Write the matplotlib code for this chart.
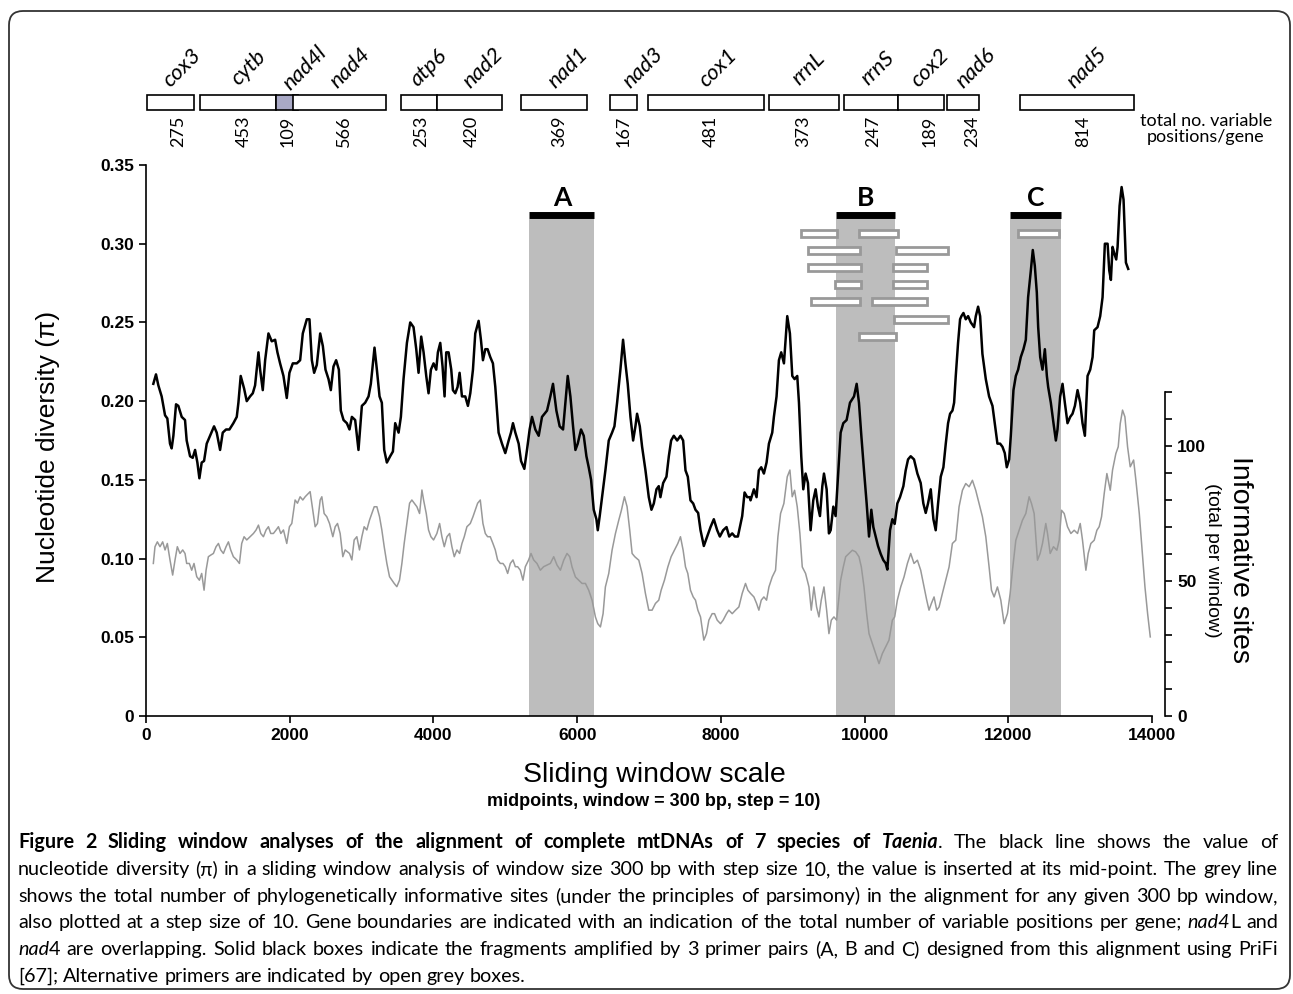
import matplotlib
matplotlib.use('Agg')
import matplotlib.pyplot as plt
from matplotlib.patches import Rectangle, FancyBboxPatch
from matplotlib.ticker import FuncFormatter, MultipleLocator, FixedLocator
from matplotlib.transforms import IdentityTransform

plt.rcParams['font.family'] = ['Liberation Sans', 'DejaVu Sans']

# nucleotide diversity (black line): (window midpoint bp, pi)
pi_pts = [
    (102, 0.211), (139, 0.217), (172, 0.210), (218, 0.203), (265, 0.191), (297, 0.189), (334, 0.173), (357, 0.170),
    (381, 0.178), (418, 0.198), (450, 0.197), (497, 0.190), (543, 0.188), (566, 0.175), (613, 0.165), (650, 0.164),
    (683, 0.169), (715, 0.161), (743, 0.151), (775, 0.161), (808, 0.162), (845, 0.173), (891, 0.178), (947, 0.184),
    (984, 0.180), (1031, 0.169), (1068, 0.180), (1114, 0.182), (1161, 0.182), (1216, 0.186), (1263, 0.190), (1286, 0.199),
    (1318, 0.216), (1365, 0.208), (1402, 0.200), (1448, 0.203), (1486, 0.205), (1518, 0.210), (1565, 0.231), (1588, 0.220),
    (1625, 0.207), (1658, 0.226), (1704, 0.243), (1750, 0.238), (1797, 0.239), (1829, 0.231), (1866, 0.224), (1913, 0.216),
    (1959, 0.202), (1996, 0.218), (2043, 0.224), (2099, 0.224), (2145, 0.226), (2182, 0.243), (2238, 0.252), (2275, 0.252),
    (2308, 0.226), (2340, 0.218), (2377, 0.223), (2424, 0.243), (2461, 0.235), (2498, 0.220), (2540, 0.214), (2572, 0.207),
    (2609, 0.222), (2646, 0.226), (2684, 0.220), (2711, 0.194), (2749, 0.188), (2795, 0.186), (2832, 0.182),
    (2865, 0.190), (2911, 0.188), (2957, 0.169), (3004, 0.197), (3050, 0.199), (3097, 0.203), (3129, 0.211), (3180, 0.234),
    (3213, 0.220), (3250, 0.203), (3282, 0.199), (3315, 0.169), (3352, 0.161), (3398, 0.165), (3436, 0.168), (3468, 0.186),
    (3515, 0.180), (3547, 0.190), (3584, 0.214), (3631, 0.237), (3677, 0.250), (3723, 0.247), (3761, 0.233), (3793, 0.218),
    (3830, 0.241), (3863, 0.231), (3900, 0.216), (3932, 0.205), (3965, 0.220), (4002, 0.224), (4039, 0.220), (4062, 0.231),
    (4095, 0.237), (4127, 0.222), (4155, 0.203), (4178, 0.231), (4211, 0.231), (4248, 0.220), (4271, 0.207), (4304, 0.205),
    (4336, 0.209), (4364, 0.218), (4397, 0.203), (4443, 0.203), (4480, 0.197), (4513, 0.205), (4550, 0.220), (4582, 0.243),
    (4629, 0.251), (4661, 0.239), (4689, 0.226), (4722, 0.233), (4754, 0.233), (4791, 0.228), (4828, 0.224), (4861, 0.209),
    (4907, 0.180), (4954, 0.173), (5000, 0.167), (5047, 0.175), (5079, 0.180), (5107, 0.186), (5140, 0.180), (5186, 0.173),
    (5219, 0.162), (5265, 0.157), (5302, 0.169), (5339, 0.182), (5372, 0.190), (5418, 0.182), (5465, 0.178), (5511, 0.190),
    (5581, 0.194), (5627, 0.203), (5664, 0.211), (5711, 0.194), (5757, 0.184), (5804, 0.182), (5836, 0.199), (5869, 0.216),
    (5906, 0.203), (5943, 0.184), (5976, 0.169), (6008, 0.173), (6054, 0.182), (6092, 0.178), (6129, 0.165), (6161, 0.158),
    (6194, 0.150), (6231, 0.131), (6268, 0.125), (6287, 0.118), (6314, 0.127), (6347, 0.139), (6393, 0.156), (6440, 0.175),
    (6486, 0.180), (6519, 0.184), (6556, 0.199), (6602, 0.220), (6639, 0.239), (6672, 0.224), (6704, 0.211), (6742, 0.190),
    (6779, 0.175), (6811, 0.184), (6834, 0.192), (6872, 0.184), (6904, 0.171), (6951, 0.156), (6997, 0.139), (7034, 0.131),
    (7067, 0.135), (7104, 0.144), (7136, 0.146), (7159, 0.139), (7197, 0.148), (7243, 0.152), (7276, 0.165), (7308, 0.175),
    (7345, 0.178), (7392, 0.175), (7438, 0.178), (7475, 0.175), (7508, 0.156), (7540, 0.152), (7577, 0.137), (7615, 0.135),
    (7647, 0.131), (7684, 0.129), (7717, 0.118), (7763, 0.108), (7810, 0.114), (7856, 0.120), (7902, 0.125), (7949, 0.118),
    (7986, 0.114), (8032, 0.118), (8079, 0.120), (8116, 0.114), (8158, 0.116), (8195, 0.114), (8237, 0.114), (8274, 0.122),
    (8297, 0.127), (8330, 0.142), (8367, 0.139), (8404, 0.139),
    (8413, 0.137), (8460, 0.144), (8497, 0.139), (8529, 0.156), (8562, 0.158), (8599, 0.154), (8636, 0.161), (8669, 0.173),
    (8715, 0.180), (8738, 0.190), (8775, 0.203), (8808, 0.226), (8840, 0.231), (8878, 0.224), (8924, 0.254), (8961, 0.243),
    (8994, 0.216), (9026, 0.214), (9063, 0.216), (9087, 0.199), (9119, 0.165), (9147, 0.144), (9179, 0.154), (9212, 0.148),
    (9249, 0.118), (9286, 0.137), (9319, 0.144), (9351, 0.133), (9379, 0.127), (9412, 0.146), (9435, 0.154), (9472, 0.144),
    (9504, 0.116), (9528, 0.118), (9565, 0.133), (9597, 0.127), (9630, 0.152), (9667, 0.180), (9704, 0.186), (9750, 0.188),
    (9797, 0.199), (9853, 0.203), (9890, 0.211), (9922, 0.199), (9955, 0.178), (9992, 0.156), (10029, 0.135), (10062, 0.114),
    (10094, 0.131), (10122, 0.120), (10154, 0.114), (10187, 0.108), (10224, 0.103), (10261, 0.099), (10294, 0.097), (10317, 0.093),
    (10354, 0.118), (10387, 0.125), (10419, 0.122), (10456, 0.135), (10493, 0.139), (10540, 0.146), (10572, 0.156), (10605, 0.163),
    (10642, 0.165), (10688, 0.163), (10735, 0.154), (10781, 0.148), (10818, 0.135), (10851, 0.129), (10883, 0.135), (10921, 0.144),
    (10958, 0.125), (10990, 0.118), (11023, 0.135), (11060, 0.152), (11097, 0.158), (11130, 0.173), (11162, 0.186), (11190, 0.192),
    (11223, 0.194), (11246, 0.199), (11269, 0.216), (11301, 0.237), (11329, 0.252), (11348, 0.254), (11376, 0.256), (11408, 0.252),
    (11441, 0.254), (11478, 0.250), (11524, 0.247), (11548, 0.254), (11580, 0.260), (11608, 0.254), (11640, 0.230), (11687, 0.214),
    (11733, 0.203), (11780, 0.197), (11812, 0.186), (11849, 0.173), (11886, 0.173), (11919, 0.171), (11951, 0.167), (11979, 0.158),
    (12012, 0.163), (12035, 0.178), (12072, 0.207), (12105, 0.216), (12137, 0.220), (12174, 0.228), (12211, 0.233), (12244, 0.239),
    (12276, 0.266), (12314, 0.283), (12341, 0.296), (12369, 0.286), (12397, 0.269), (12416, 0.247), (12444, 0.228), (12476, 0.220),
    (12509, 0.233), (12537, 0.216), (12555, 0.209), (12592, 0.199), (12629, 0.186), (12662, 0.175), (12685, 0.182), (12722, 0.203),
    (12755, 0.211), (12787, 0.199), (12824, 0.186), (12862, 0.190), (12894, 0.192), (12927, 0.197), (12964, 0.207), (13001, 0.199),
    (13033, 0.186), (13066, 0.178), (13103, 0.216), (13140, 0.220), (13173, 0.228), (13196, 0.245), (13242, 0.247), (13279, 0.254),
    (13312, 0.266), (13344, 0.300), (13382, 0.300), (13405, 0.283), (13428, 0.277), (13451, 0.298), (13474, 0.294), (13502, 0.290),
    (13521, 0.298), (13549, 0.324), (13577, 0.336), (13604, 0.328), (13637, 0.288), (13669, 0.284),
]

# informative sites per window (grey line): (window midpoint bp, count)
inf_pts = [
    (102, 56.5), (125, 62.7), (158, 64.5), (195, 62.7), (232, 64.5), (265, 61.5), (297, 63.9), (334, 57.8), (371, 52.2),
    (404, 57.8), (436, 62.7), (473, 60.2), (511, 61.5), (543, 60.2), (566, 56.5), (603, 56.5), (636, 54.0), (668, 56.5),
    (706, 51.6), (743, 50.3), (775, 52.8), (808, 46.6), (836, 54.0), (868, 59.0), (901, 59.6), (938, 60.2), (975, 62.7),
    (1008, 63.9), (1040, 61.5), (1077, 60.2), (1114, 62.7), (1147, 64.5), (1179, 61.5), (1216, 59.0), (1263, 57.8), (1300, 56.5),
    (1332, 63.9), (1365, 66.4), (1402, 65.2), (1448, 66.4), (1495, 67.6), (1532, 68.9), (1565, 70.7), (1597, 67.6), (1634, 66.4),
    (1671, 68.9), (1704, 70.1), (1736, 67.6), (1773, 67.6), (1811, 68.9), (1843, 70.1), (1876, 67.6), (1913, 68.9), (1959, 63.9),
    (1996, 70.1), (2029, 71.3), (2075, 80.0), (2108, 78.8), (2145, 81.2), (2182, 80.0), (2215, 81.2), (2261, 82.5), (2284, 83.1),
    (2321, 76.3), (2354, 70.1), (2386, 71.3), (2424, 80.0), (2447, 81.2), (2479, 75.0), (2516, 73.8), (2554, 71.3), (2600, 66.4),
    (2633, 70.1), (2665, 71.3), (2702, 67.6), (2739, 59.0), (2772, 61.5), (2832, 60.2),
    (2865, 57.8), (2897, 65.2), (2934, 66.4), (2971, 61.5), (3004, 66.4), (3036, 70.1), (3073, 68.9), (3111, 72.6), (3143, 75.0),
    (3176, 77.5), (3213, 77.5), (3250, 73.8), (3282, 68.9), (3315, 62.7), (3352, 56.5), (3389, 51.6), (3422, 50.3), (3454, 49.1),
    (3491, 47.9), (3528, 50.3), (3561, 56.5), (3593, 63.9), (3631, 71.3), (3668, 78.8), (3700, 80.0), (3733, 78.8), (3770, 77.5),
    (3807, 75.0), (3840, 83.7), (3863, 80.0), (3900, 75.0), (3932, 68.9), (3965, 66.4), (4002, 65.2), (4048, 67.6), (4086, 71.3),
    (4118, 66.4), (4151, 62.7), (4188, 66.4), (4225, 67.6), (4257, 62.7), (4290, 59.0), (4327, 61.5), (4364, 60.2), (4397, 63.9),
    (4429, 66.4), (4466, 70.1), (4513, 71.3), (4550, 73.8), (4582, 76.3), (4615, 78.8), (4652, 80.0), (4689, 71.3), (4722, 67.6),
    (4754, 66.4), (4791, 66.4), (4828, 63.9), (4861, 61.5), (4893, 57.8), (4931, 56.5), (4968, 56.5), (5000, 55.3), (5033, 52.8),
    (5070, 56.5), (5107, 57.8), (5140, 55.3), (5172, 55.3), (5209, 54.0), (5246, 50.3), (5279, 55.3), (5325, 57.8), (5358, 60.2),
    (5395, 57.8), (5441, 56.5), (5488, 54.0), (5534, 55.3),
    (5627, 56.5), (5674, 59.0), (5720, 55.9), (5767, 54.0), (5813, 57.7), (5859, 60.2), (5897, 59.0), (5929, 55.2), (5976, 51.5),
    (6022, 50.3), (6068, 49.1), (6115, 49.1), (6161, 46.6), (6208, 42.9), (6254, 36.7), (6287, 34.2), (6324, 33.0), (6361, 37.9),
    (6393, 47.8), (6440, 52.8), (6486, 61.4), (6533, 67.6), (6579, 72.5), (6616, 76.2), (6658, 81.2), (6695, 77.5), (6732, 68.8),
    (6765, 60.2), (6802, 59.0), (6858, 57.7), (6904, 52.8), (6950, 45.4), (6997, 39.2), (7043, 39.2), (7090, 41.7), (7136, 42.9),
    (7169, 46.6), (7215, 50.3), (7262, 55.2), (7308, 59.0), (7354, 61.4), (7401, 63.9), (7438, 66.4), (7475, 61.4), (7508, 55.2),
    (7540, 52.8), (7577, 46.6), (7615, 44.1), (7647, 42.9), (7680, 39.2), (7717, 36.7), (7763, 28.1), (7800, 30.5), (7833, 35.5),
    (7879, 37.9), (7912, 37.9), (7949, 35.5), (7995, 34.2), (8032, 35.5), (8079, 37.9), (8111, 39.2), (8158, 37.9), (8204, 39.2),
    (8251, 40.4), (8297, 45.4), (8343, 49.1), (8376, 46.6), (8413, 45.4), (8460, 44.1), (8497, 41.7), (8529, 39.2), (8562, 42.9),
    (8599, 44.1), (8636, 42.9), (8669, 47.8), (8715, 51.5), (8761, 54.0), (8794, 66.4), (8831, 75.0), (8877, 78.7), (8924, 88.6),
    (8961, 91.1), (8993, 81.2), (9026, 83.6), (9063, 77.5), (9100, 67.6), (9133, 55.2), (9179, 52.8), (9226, 47.8), (9258, 39.2),
    (9295, 47.8), (9332, 40.4), (9365, 36.7), (9397, 42.9), (9435, 47.8), (9472, 39.2), (9504, 30.5), (9537, 35.5), (9574, 36.7),
    (9611, 35.5),
    (9667, 50.3), (9704, 55.2), (9737, 59.0), (9783, 60.2), (9830, 61.4), (9876, 60.8), (9922, 59.0), (9955, 55.2), (9992, 47.8),
    (10029, 37.9), (10062, 30.5), (10108, 26.8), (10155, 23.1), (10201, 19.4), (10247, 23.1), (10294, 25.6), (10340, 28.1),
    (10387, 35.5), (10419, 36.7), (10456, 42.9), (10503, 47.8), (10549, 51.5), (10596, 56.5), (10642, 60.2), (10688, 56.5),
    (10735, 57.7), (10781, 54.0), (10828, 47.8), (10865, 42.9), (10897, 39.2), (10930, 41.7), (10967, 44.1), (11004, 39.2),
    (11037, 40.4), (11083, 45.4), (11130, 50.3), (11176, 55.2), (11222, 63.9), (11269, 65.1), (11315, 77.5), (11362, 83.6),
    (11408, 86.1), (11455, 84.9), (11501, 87.3), (11547, 83.6), (11594, 78.7), (11640, 73.8), (11687, 66.4), (11733, 55.2),
    (11766, 46.6), (11803, 44.1), (11849, 47.8), (11896, 42.9), (11942, 34.2), (11989, 38.0), (12026, 45.4), (12058, 54.0),
    (12105, 65.1), (12151, 68.8), (12197, 72.5), (12244, 75.0), (12290, 81.2), (12323, 78.7), (12360, 75.0), (12406, 57.7),
    (12443, 60.2), (12476, 63.9), (12522, 71.3), (12546, 67.6), (12583, 60.2), (12629, 62.7), (12676, 61.4), (12708, 65.1),
    (12741, 76.2), (12778, 75.0), (12824, 70.1), (12871, 67.6), (12917, 68.8), (12964, 67.6), (13001, 71.3), (13033, 65.1),
    (13080, 54.0), (13112, 60.2), (13149, 63.9), (13196, 65.1), (13233, 68.8), (13265, 70.1), (13298, 73.8), (13335, 82.4),
    (13372, 89.8), (13419, 83.6), (13451, 91.1), (13497, 97.2), (13530, 99.7), (13558, 108.3), (13590, 113.3), (13623, 110.8),
    (13660, 99.7), (13697, 92.3), (13744, 94.8), (13776, 87.3), (13823, 75.0), (13869, 59.0), (13902, 47.8), (13939, 37.9),
    (13976, 29.3),
]

# fragments amplified by the 3 primer pairs (bp)
frag_names = ['A', 'B', 'C']
frag_start = [5335, 9598, 12022]
frag_end = [6241, 10420, 12732]

# alternative primer boxes: (start bp, end bp, stack row)
alt_primers = [
    (9120, 9612, 0), (9923, 10466, 0), (12138, 12709, 0),
    (9213, 9937, 1), (10443, 11163, 1),
    (9213, 9946, 2), (10401, 10866, 2),
    (9589, 9946, 3), (10401, 10866, 3),
    (9250, 9937, 4), (10109, 10866, 4),
    (10410, 11163, 5),
    (9923, 10434, 6),
]

# genes along the alignment
gene_names = ['cox3', 'cytb', 'nad4l', 'nad4', 'atp6', 'nad2', 'nad1', 'nad3', 'cox1', 'rrnL', 'rrnS', 'cox2', 'nad6', 'nad5']
gene_start = [11, 747, 1816, 2041, 3548, 4055, 5215, 6458, 6991, 8676, 9720, 10461, 11144, 12157]
gene_end = [663, 1816, 2116, 3335, 4055, 4951, 6135, 6831, 8600, 9651, 10461, 11106, 11597, 13745]
gene_var = [275, 453, 109, 566, 253, 420, 369, 167, 481, 373, 247, 189, 234, 814]

# where the text sits in the gene strip (bp)
num_x = [446, 1365, 1964, 2758, 3831, 4527, 5748, 6644, 7865, 9145, 10127, 10907, 11493, 13039]
lab_x = [499, 1429, 2215, 2842, 3928, 4688, 5871, 6916, 7954, 9221, 10183, 10907, 11544, 13094]

caption = [
    [('b', 'Figure 2 Sliding window analyses of the alignment of complete mtDNAs of 7 species of '), ('bi', 'Taenia'),
     ('r', '. The black line shows the value of')],
    [('r', 'nucleotide diversity (\u03c0) in a sliding window analysis of window size 300 bp with step size 10, '
           'the value is inserted at its mid-point. The grey line')],
    [('r', 'shows the total number of phylogenetically informative sites (under the principles of parsimony) '
           'in the alignment for any given 300 bp window,')],
    [('r', 'also plotted at a step size of 10. Gene boundaries are indicated with an indication of the total '
           'number of variable positions per gene; '), ('i', 'nad4'), ('r', 'L and')],
    [('i', 'nad'), ('r', '4 are overlapping. Solid black boxes indicate the fragments amplified by 3 primer pairs '
                         '(A, B and C) designed from this alignment using PriFi')],
    [('r', '[67]; Alternative primers are indicated by open grey boxes.')],
]

W, H = 1293, 994
fig = plt.figure(figsize=(W / 100, H / 100), dpi=100)


def fx(px):
    return px / W


def fy(py):
    return 1 - py / H


# rounded frame round the whole figure
frame = FancyBboxPatch((9, 5), 1281, 978, boxstyle='round,pad=0,rounding_size=14',
                       transform=IdentityTransform(), fc='none', ec='#333333', lw=1.3)
fig.patches.append(frame)

lato = ['Lato', 'DejaVu Sans']

ax = fig.add_axes([fx(146), fy(716), fx(1152) - fx(146), fy(165) - fy(716)])
ax.set_xlim(0, 14000)
ax.set_ylim(0, 0.35)

bar_y = 0.318
for name, s, e in zip(frag_names, frag_start, frag_end):
    ax.axvspan(s, e, ymin=0, ymax=0.3157 / 0.35, color='#bdbdbd', lw=0, zorder=0)
    ax.plot([s, e], [bar_y, bar_y], color='black', lw=5, solid_capstyle='butt', zorder=3)
    ax.text((s + e) / 2, 0.329, name, ha='center', va='center', fontsize=19, weight='bold', family=lato)

for s, e, row in alt_primers:
    y = 0.3066 - row * 0.0109
    ax.add_patch(Rectangle((s, y - 0.0022), e - s, 0.0044, fc='white', ec='#999999', lw=2, zorder=3))

px_, pv_ = zip(*pi_pts)
ax.plot(px_, pv_, color='black', lw=1.8, zorder=4)

ax.spines['top'].set_visible(False)
ax.spines['right'].set_visible(False)
ax.set_xticks(range(0, 14001, 2000))
ax.yaxis.set_major_locator(MultipleLocator(0.05))
ax.yaxis.set_major_formatter(FuncFormatter(lambda v, p: '0' if abs(v) < 1e-9 else f'{v:.2f}'))
ax.tick_params(direction='out', length=5, width=1.2, labelsize=12.5)
for lab in ax.get_xticklabels() + ax.get_yticklabels():
    lab.set_fontweight('bold')
for sp in ax.spines.values():
    sp.set_linewidth(1.2)

# informative sites on its own scale
ax2 = ax.twinx()
ax2.set_ylim(0, 551 / 2.7)
ix_, iv_ = zip(*inf_pts)
ax2.plot(ix_, iv_, color='#999999', lw=1.1)
for k in ['top', 'left', 'bottom']:
    ax2.spines[k].set_visible(False)
ax2.spines['right'].set_position(('outward', 9.5))
ax2.spines['right'].set_bounds(0, 120)
ax2.spines['right'].set_linewidth(1.2)
ax2.set_yticks([0, 50, 100])
ax2.yaxis.set_minor_locator(FixedLocator(range(0, 121, 10)))
ax2.tick_params(which='both', direction='out', length=5, width=1.2, labelsize=12.5)
for lab in ax2.get_yticklabels():
    lab.set_fontweight('bold')
ax2.set_xlim(0, 14000)

fig.text(fx(48), fy(447), 'Nucleotide diversity (\u03c0)', rotation=90, ha='center', va='center', fontsize=19)
fig.text(fx(654), fy(775), 'Sliding window scale', ha='center', va='center', fontsize=20.5)
fig.text(fx(654), fy(802), 'midpoints, window = 300 bp, step = 10)', ha='center', va='center',
         fontsize=13, weight='bold')
fig.text(fx(1240), fy(560), 'Informative sites', rotation=270, ha='center', va='center', fontsize=20.5)
fig.text(fx(1212), fy(560), '(total per window)', rotation=270, ha='center', va='center', fontsize=14)

# gene strip on top
axg = fig.add_axes([fx(146), fy(150), fx(1152) - fx(146), fy(30) - fy(150)])
axg.set_xlim(0, 14000)
axg.set_ylim(0, 120)
axg.axis('off')
for name, s, e in zip(gene_names, gene_start, gene_end):
    fc = '#a9a9c6' if name == 'nad4l' else 'white'
    axg.add_patch(Rectangle((s, 40), e - s, 15, fc=fc, ec='black', lw=1.2))
for name, v, nx, lx in zip(gene_names, gene_var, num_x, lab_x):
    axg.text(nx, 19, str(v), rotation=90, ha='center', va='center', fontsize=13, family=lato)
    axg.text(lx, 82, name, rotation=45, ha='center', va='center', fontsize=16, style='italic', family=lato)
fig.text(fx(1206), fy(121), 'total no. variable', ha='center', va='center', fontsize=13, family=lato)
fig.text(fx(1206), fy(137), 'positions/gene', ha='center', va='center', fontsize=13, family=lato)

# justified caption
renderer = fig.canvas.get_renderer()
cap_styles = {'r': {}, 'b': {'weight': 'bold'}, 'i': {'style': 'italic'},
              'bi': {'weight': 'bold', 'style': 'italic'}}
X0, X1 = 18, 1278


def text_width(s, st, size):
    t = fig.text(0, 0, s, fontsize=size, family=lato, **cap_styles[st])
    w = t.get_window_extent(renderer).width
    t.remove()
    return w


def split_words(segs):
    words = [[]]
    for st, txt in segs:
        for k, p in enumerate(txt.split(' ')):
            if k:
                words.append([])
            if p:
                words[-1].append((p, st))
    return [w for w in words if w]


# largest size (up to 14.5) at which every line still fits with normal spacing
cap_size = 14.5
while cap_size > 10:
    sp = text_width('x x', 'r', cap_size) - text_width('xx', 'r', cap_size)
    widest = 0
    for segs in caption:
        ws = split_words(segs)
        wsum = sum(text_width(p, st, cap_size) for w in ws for p, st in w)
        widest = max(widest, wsum + sp * (len(ws) - 1))
    if widest <= X1 - X0:
        break
    cap_size -= 0.25
space_w = text_width('x x', 'r', cap_size) - text_width('xx', 'r', cap_size)


def caption_line(segs, py, justify=True):
    placed = []
    for w in split_words(segs):
        parts = []
        for p, st in w:
            t = fig.text(0, fy(py), p, fontsize=cap_size, family=lato, va='baseline', **cap_styles[st])
            parts.append((t, t.get_window_extent(renderer).width))
        placed.append(parts)
    total = sum(wd for parts in placed for _, wd in parts)
    gap = (X1 - X0 - total) / (len(placed) - 1) if justify else space_w
    x = X0
    for parts in placed:
        for t, wd in parts:
            t.set_x(fx(x))
            x += wd
        x += gap


for i, segs in enumerate(caption):
    caption_line(segs, round(848 + 26.8 * i), justify=(i < len(caption) - 1))

fig.savefig('out.png', dpi=100)
